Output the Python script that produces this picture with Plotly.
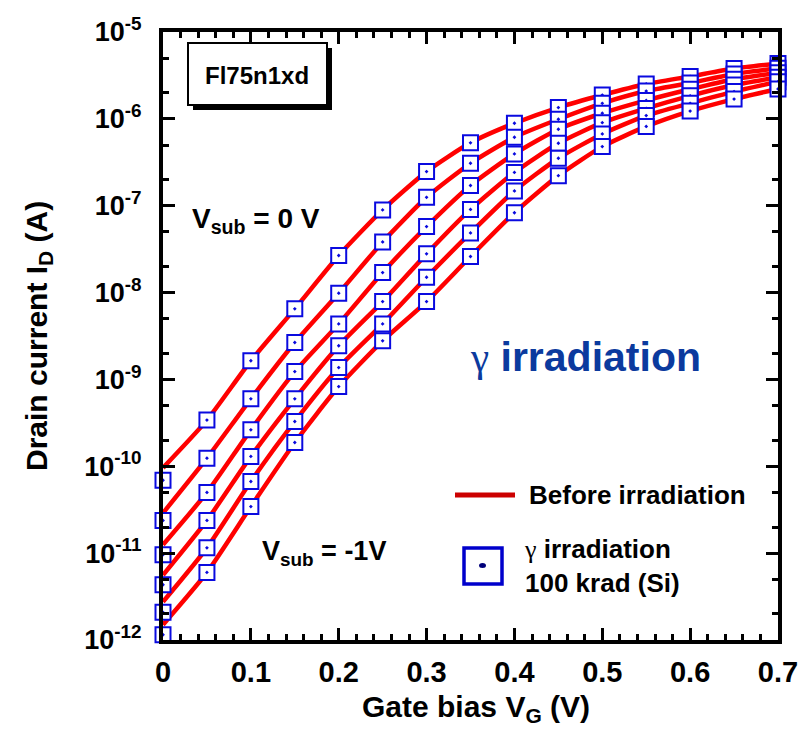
import plotly.graph_objects as go

# ---------------- data ----------------
vg = [0.0, 0.05, 0.1, 0.15, 0.2, 0.25, 0.3, 0.35, 0.4, 0.45, 0.5, 0.55, 0.6, 0.65, 0.7]
vsub = ["0", "-0.2", "-0.4", "-0.6", "-0.8", "-1"]

# gamma irradiated, 100 krad (Si)  (markers)
irr_0 = [6.9e-11, 3.4e-10, 1.64e-9, 6.5e-9, 2.67e-8, 8.95e-8, 2.47e-7, 5.3e-7, 8.9e-7, 1.35e-6, 1.88e-6, 2.52e-6, 3.08e-6, 3.80e-6, 4.34e-6]
irr_1 = [2.38e-11, 1.24e-10, 5.98e-10, 2.66e-9, 9.84e-9, 3.83e-8, 1.25e-7, 3.08e-7, 6.14e-7, 9.9e-7, 1.51e-6, 2.09e-6, 2.59e-6, 3.29e-6, 3.82e-6]
irr_2 = [9.6e-12, 5.0e-11, 2.63e-10, 1.23e-9, 4.36e-9, 1.70e-8, 5.75e-8, 1.71e-7, 3.95e-7, 7.59e-7, 1.16e-6, 1.63e-6, 2.19e-6, 2.86e-6, 3.40e-6]
irr_3 = [4.33e-12, 2.38e-11, 1.30e-10, 5.98e-10, 2.44e-9, 7.87e-9, 2.79e-8, 9.06e-8, 2.42e-7, 5.24e-7, 9.04e-7, 1.32e-6, 1.84e-6, 2.45e-6, 3.01e-6]
irr_4 = [2.08e-12, 1.15e-11, 6.68e-11, 3.28e-10, 1.37e-9, 4.36e-9, 1.50e-8, 4.86e-8, 1.48e-7, 3.52e-7, 6.70e-7, 1.09e-6, 1.51e-6, 2.06e-6, 2.68e-6]
irr_5 = [1.15e-12, 6.0e-12, 3.44e-11, 1.88e-10, 8.28e-10, 2.78e-9, 7.87e-9, 2.60e-8, 8.30e-8, 2.22e-7, 4.79e-7, 8.18e-7, 1.23e-6, 1.69e-6, 2.21e-6]

# before irradiation (lines)
pre_0 = [9.6e-11, 3.4e-10, 1.64e-9, 6.5e-9, 2.67e-8, 8.95e-8, 2.47e-7, 5.3e-7, 8.9e-7, 1.35e-6, 1.88e-6, 2.52e-6, 3.08e-6, 3.80e-6, 4.34e-6]
pre_1 = [2.9e-11, 1.24e-10, 5.98e-10, 2.66e-9, 9.84e-9, 3.83e-8, 1.25e-7, 3.08e-7, 6.14e-7, 9.9e-7, 1.51e-6, 2.09e-6, 2.59e-6, 3.29e-6, 3.82e-6]
pre_2 = [1.25e-11, 5.0e-11, 2.63e-10, 1.23e-9, 4.36e-9, 1.70e-8, 5.75e-8, 1.71e-7, 3.95e-7, 7.59e-7, 1.16e-6, 1.63e-6, 2.19e-6, 2.86e-6, 3.40e-6]
pre_3 = [5.6e-12, 2.38e-11, 1.30e-10, 5.98e-10, 2.44e-9, 7.87e-9, 2.79e-8, 9.06e-8, 2.42e-7, 5.24e-7, 9.04e-7, 1.32e-6, 1.84e-6, 2.45e-6, 3.01e-6]
pre_4 = [2.75e-12, 1.15e-11, 6.68e-11, 3.28e-10, 1.37e-9, 4.36e-9, 1.50e-8, 4.86e-8, 1.48e-7, 3.52e-7, 6.70e-7, 1.09e-6, 1.51e-6, 2.06e-6, 2.68e-6]
pre_5 = [1.5e-12, 6.0e-12, 3.44e-11, 1.88e-10, 8.28e-10, 2.78e-9, 7.87e-9, 2.60e-8, 8.30e-8, 2.22e-7, 4.79e-7, 8.18e-7, 1.23e-6, 1.69e-6, 2.21e-6]

irradiated = [irr_0, irr_1, irr_2, irr_3, irr_4, irr_5]
before = [pre_0, pre_1, pre_2, pre_3, pre_4, pre_5]

x_ticks = [0, 0.1, 0.2, 0.3, 0.4, 0.5, 0.6, 0.7]
x_ticktext = ["0", "0.1", "0.2", "0.3", "0.4", "0.5", "0.6", "0.7"]
y_ticks = [1e-12, 1e-11, 1e-10, 1e-9, 1e-8, 1e-7, 1e-6, 1e-5]
y_ticktext = ["10<sup>-12</sup>", "10<sup>-11</sup>", "10<sup>-10</sup>", "10<sup>-9</sup>",
              "10<sup>-8</sup>", "10<sup>-7</sup>", "10<sup>-6</sup>", "10<sup>-5</sup>"]

# ---------------- figure ----------------
W, H = 800, 744
L, R, T, B = 163, 778, 32, 640          # plot area in window pixels
SANS = "Liberation Sans, Arial, Helvetica, sans-serif"


def px(x):
    return (x - L) / (R - L)


def py(y):
    return (B - y) / (B - T)


fig = go.Figure()
for i, ys in enumerate(before):
    fig.add_trace(go.Scatter(x=vg, y=ys, mode="lines", name=f"Before, Vsub={vsub[i]} V",
                             line=dict(color="#ff0000", width=4.5, shape="spline", smoothing=0.6),
                             showlegend=False, hoverinfo="skip"))
for i, ys in enumerate(irradiated):
    fig.add_trace(go.Scatter(x=vg, y=ys, mode="markers", name=f"γ 100 krad, Vsub={vsub[i]} V",
                             marker=dict(symbol="square-dot", size=15, color="white",
                                         line=dict(color="#0a0adf", width=2)),
                             cliponaxis=False, showlegend=False))

axis_common = dict(showline=True, linewidth=4, linecolor="black", mirror="allticks",
                   ticks="inside", ticklen=12, tickwidth=3, tickcolor="black",
                   showgrid=False, zeroline=False, automargin=False,
                   ticklabeloverflow="allow")

fig.update_xaxes(range=[0, 0.7], tickvals=x_ticks, ticktext=x_ticktext,
                 tickfont=dict(family=SANS, size=29, color="black", weight="bold"),
                 ticklabelstandoff=3,
                 minor=dict(dtick=0.02, tick0=0, ticks="inside", ticklen=6, tickwidth=2.5,
                            tickcolor="black", showgrid=False),
                 **axis_common)
fig.update_yaxes(type="log", range=[-12, -5], tickvals=y_ticks, ticktext=y_ticktext,
                 tickfont=dict(family=SANS, size=27, color="black", weight="bold"),
                 ticklabelstandoff=12,
                 minor=dict(ticks="inside", ticklen=6, tickwidth=2.5, tickcolor="black",
                            showgrid=False),
                 **axis_common)

shapes = [
    # label box with shadow
    dict(type="rect", xref="paper", yref="paper", x0=px(193), x1=px(332), y0=py(48), y1=py(110),
         fillcolor="black", line=dict(width=0)),
    dict(type="rect", xref="paper", yref="paper", x0=px(188), x1=px(327), y0=py(43), y1=py(105),
         fillcolor="white", line=dict(color="black", width=2)),
    # legend: line sample
    dict(type="line", xref="paper", yref="paper", x0=px(455), x1=px(515), y0=py(495), y1=py(495),
         line=dict(color="#cc0000", width=5)),
    # legend: marker sample
    dict(type="rect", xref="paper", yref="paper", x0=px(464), x1=px(502), y0=py(548), y1=py(584),
         fillcolor="white", line=dict(color="#0000cc", width=3.5)),
    dict(type="circle", xref="paper", yref="paper", x0=px(479), x1=px(486), y0=py(563), y1=py(568),
         fillcolor="#00007a", line=dict(width=0)),
]


def note(text, x, y, size, xanchor="left", color="black", **kw):
    return dict(text=text, x=px(x), y=py(y), xref="paper", yref="paper", xanchor=xanchor,
                yanchor="middle", showarrow=False, font=dict(family=SANS, size=size, color=color), **kw)


GAMMA = "<span style=\"font-family:'Liberation Serif';font-weight:normal\">γ</span>"

annotations = [
    note("<b>Fl75n1xd</b>", 257, 75, 24, xanchor="center"),
    note("<b>V<sub>sub</sub> = 0 V</b>", 190, 220, 28),
    note("<b>V<sub>sub</sub> = -1V</b>", 260, 553, 27),
    note(GAMMA + "<b> irradiation</b>", 468, 357, 41, color="#0b3a9e"),
    note("<b>Before irradiation</b>", 527, 495, 26),
    note("<b>" + GAMMA + " irradiation<br>100 krad (Si)</b>", 522, 566, 26, align="left"),
    # axis titles
    note("<b>Gate bias V<sub>G</sub> (V)</b>", 476, 708, 30, xanchor="center"),
    note("<b>Drain current I<sub>D</sub> (A)</b>", 38, 336, 30, xanchor="center", textangle=-90),
]

fig.update_layout(width=W, height=H,
                  margin=dict(l=L, r=W - R, t=T, b=H - B),
                  plot_bgcolor="white", paper_bgcolor="white", showlegend=False,
                  shapes=shapes, annotations=annotations)

# remove the browser's default 8 px body margin so the figure fills the window exactly
fig.write_html("out.html", config={"displayModeBar": False},
               post_script="document.body.style.margin='0px';")
